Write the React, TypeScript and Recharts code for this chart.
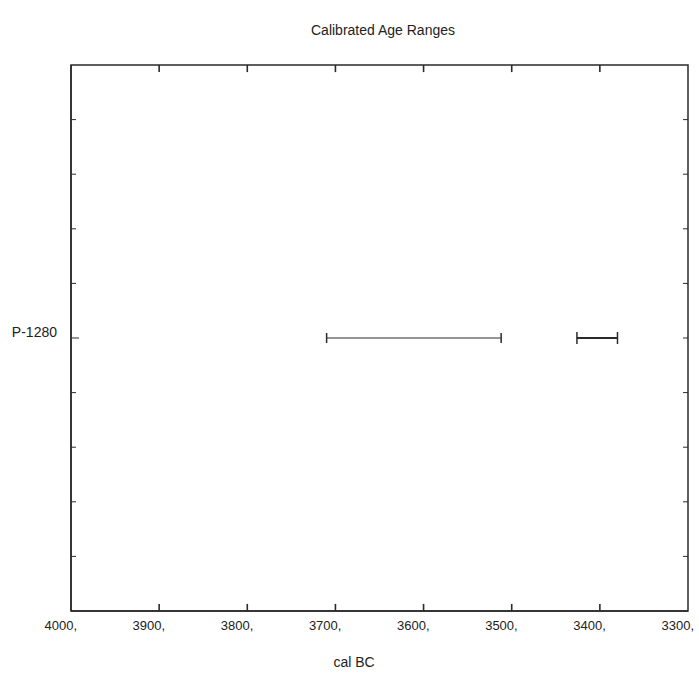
import { ComposedChart, Line, XAxis, YAxis, ReferenceArea, ReferenceLine } from 'recharts';

// calibrated ranges for the single sample, in cal BC
const sampleLabels = ['P-1280'];
const sampleRows = [5];
const rangeStarts = [3710, 3426];
const rangeEnds = [3512, 3380];
const xTicks = [4000, 3900, 3800, 3700, 3600, 3500, 3400, 3300];
const yTicks = [1, 2, 3, 4, 5, 6, 7, 8, 9];

const ranges = rangeStarts.map((s, i) => [
  { x: s, y: sampleRows[0] },
  { x: rangeEnds[i], y: sampleRows[0] },
]);

const font = '"Liberation Sans", Arial, sans-serif';
const ink = '#2a2a2a';

const BottomTick = (props: any) => {
  const { x, y, payload } = props;
  return (
    <text x={x + 6} y={y + 19} textAnchor="end" fontSize={13} fontFamily={font} fill="#222">
      {payload.value},
    </text>
  );
};

const LeftTick = (props: any) => {
  const { x, y, payload } = props;
  const idx = sampleRows.indexOf(payload.value);
  if (idx < 0) return <g />;
  return (
    <g>
      <line x1={x} x2={x + 3} y1={y} y2={y} stroke={ink} />
      <text x={x - 19} y={y - 1} textAnchor="end" fontSize={14} fontFamily={font} fill="#222">
        {sampleLabels[idx]}
      </text>
    </g>
  );
};

const Cap = (props: any) => {
  const { cx, cy, half } = props;
  return <line x1={cx} x2={cx} y1={cy - half} y2={cy + half} stroke={ink} strokeWidth={1.5} />;
};

export default function App() {
  const axisLine = { stroke: ink, strokeWidth: 1.5 };
  const innerX = xTicks.slice(1, -1);
  return (
    <div style={{ position: 'absolute', left: 0, top: 0, width: 699, height: 674, background: '#fff', fontFamily: font }}>
      <div style={{ position: 'absolute', left: 383, top: 23, transform: 'translateX(-50%)', fontSize: 14, lineHeight: 1, color: '#222', whiteSpace: 'nowrap' }}>
        Calibrated Age Ranges
      </div>
      <ComposedChart width={699} height={674} margin={{ top: 65, right: 11, bottom: 0, left: 0 }}>
        <XAxis
          xAxisId="b"
          type="number"
          dataKey="x"
          domain={[3300, 4000]}
          reversed
          ticks={xTicks}
          interval={0}
          height={63}
          tickSize={0}
          tickMargin={0}
          tickLine={false}
          axisLine={axisLine}
          tick={<BottomTick />}
        />
        <YAxis
          yAxisId="l"
          type="number"
          domain={[0, 10]}
          reversed
          ticks={yTicks}
          interval={0}
          width={71}
          tickSize={-5}
          tickMargin={0}
          tickLine={{ stroke: ink, strokeWidth: 1 }}
          axisLine={axisLine}
          tick={<LeftTick />}
        />
        {/* frame, plus inward ticks on the top, bottom and right edges */}
        <ReferenceArea xAxisId="b" yAxisId="l" x1={4000} x2={3300} y1={0} y2={10} fill="none" stroke={ink} strokeWidth={1.5} />
        {innerX.map((t) => (
          <ReferenceLine key={'t' + t} xAxisId="b" yAxisId="l" segment={[{ x: t, y: 0 }, { x: t, y: 0.13 }]} stroke={ink} strokeWidth={1.6} />
        ))}
        {innerX.map((t) => (
          <ReferenceLine key={'b' + t} xAxisId="b" yAxisId="l" segment={[{ x: t, y: 10 }, { x: t, y: 9.87 }]} stroke={ink} strokeWidth={1.6} />
        ))}
        {yTicks.map((t) => (
          <ReferenceLine key={'r' + t} xAxisId="b" yAxisId="l" segment={[{ x: 3300, y: t }, { x: 3305.7, y: t }]} stroke={ink} strokeWidth={1} />
        ))}
        {ranges.map((r, i) => (
          <Line
            key={i}
            xAxisId="b"
            yAxisId="l"
            data={r}
            dataKey="y"
            type="linear"
            stroke={ink}
            strokeWidth={i === 0 ? 1 : 2}
            dot={(p: any) => <Cap key={p.index} {...p} half={i === 0 ? 5 : 6} />}
            activeDot={false}
            isAnimationActive={false}
          />
        ))}
      </ComposedChart>
      <div style={{ position: 'absolute', left: 354, top: 655, transform: 'translateX(-50%)', fontSize: 14, lineHeight: 1, color: '#222', whiteSpace: 'nowrap' }}>
        cal BC
      </div>
    </div>
  );
}
